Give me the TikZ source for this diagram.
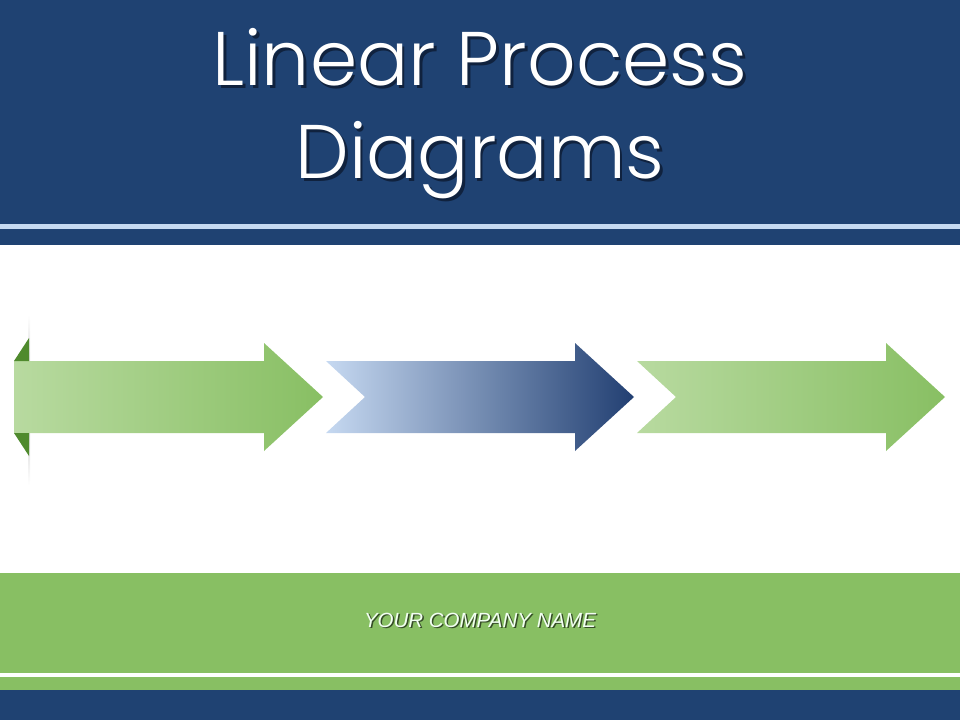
\documentclass[tikz,border=0pt]{standalone}
\usepackage{fontspec}
\setmainfont{Poppins Light}
\newfontfamily\arialfont{Liberation Sans}
\definecolor{navy}{HTML}{1F4272}
\definecolor{stripe}{HTML}{C5D9F1}
\definecolor{grn}{HTML}{88BF63}
\definecolor{lgrn}{HTML}{B8DAA0}
\definecolor{dgrn}{HTML}{4F8A2D}
\definecolor{lblue}{HTML}{C6D9F1}
\definecolor{dblue}{HTML}{223F72}
\definecolor{shad}{HTML}{10223E}
\begin{document}
\begin{tikzpicture}[x=1pt,y=-1pt,
  titletext/.style={text=white,font=\fontsize{76}{93}\selectfont,align=center,inner sep=0pt},
  titleshadow/.style={text=shad,font=\fontsize{76}{93}\selectfont,align=center,inner sep=0pt},
  foottext/.style={font=\arialfont\itshape\fontsize{20.5}{24}\selectfont,inner sep=0pt}]
\useasboundingbox (0,0) rectangle (960,720);
% header
\fill[navy] (0,0) rectangle (960,245);
\fill[stripe] (0,224) rectangle (960,229);
% footer
\fill[grn] (0,573) rectangle (960,690);
\fill[white] (0,673) rectangle (960,677);
\fill[navy] (0,690) rectangle (960,720);
% title
\node[titleshadow] (titlesh) at (482.5,116.5) {Linear Process\\Diagrams};
\node[titletext] (title) at (480,114) {Linear Process\\Diagrams};
% footer text
\node[foottext,text=black!60!grn] (companysh) at (481.5,621.5) {YOUR COMPANY NAME};
\node[foottext,text=white!95!green] (company) at (480,620) {YOUR COMPANY NAME};
% faint vertical line at left
\shade[top color=white,bottom color=white,middle color=black!25] (28,315) rectangle (30,485);
% arrow 1
\shade[left color=lgrn,right color=grn] (14,361) -- (264,361) -- (264,343) -- (323,397) -- (264,451) -- (264,433) -- (14,433) -- cycle;
\fill[dgrn] (14,361) -- (29,338) -- (29,361) -- cycle;
\fill[dgrn] (14,433) -- (29,433) -- (29,456) -- cycle;
% arrow 2
\shade[left color=lblue,right color=dblue] (326,361) -- (575,361) -- (575,343) -- (634,397) -- (575,451) -- (575,433) -- (326,433) -- (365,397) -- cycle;
% arrow 3
\shade[left color=lgrn,right color=grn] (637,361) -- (886,361) -- (886,343) -- (945,397) -- (886,451) -- (886,433) -- (637,433) -- (676,397) -- cycle;
\end{tikzpicture}
\end{document}
